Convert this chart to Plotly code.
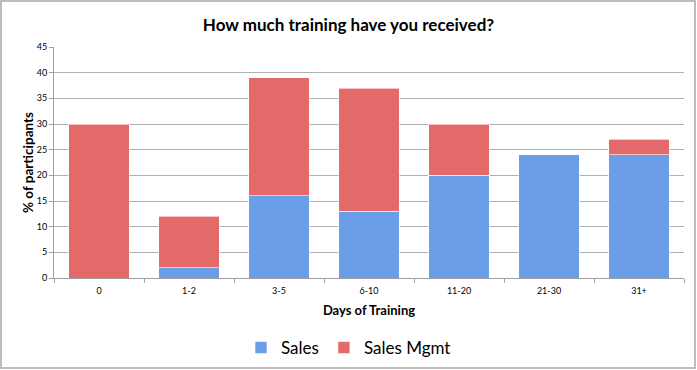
import plotly.graph_objects as go

categories = ["0", "1-2", "3-5", "6-10", "11-20", "21-30", "31+"]
sales = [0, 2, 16, 13, 20, 24, 24]
sales_mgmt = [30, 10, 23, 24, 10, 0, 3]
y_ticks = [0, 5, 10, 15, 20, 25, 30, 35, 40, 45]

FONT = "Lato, 'Open Sans', sans-serif"

fig = go.Figure()
fig.add_trace(go.Bar(
    x=categories, y=sales, name="Sales",
    marker=dict(color="#6a9ee6", line=dict(color="rgba(255,255,255,0.6)", width=1)),
))
fig.add_trace(go.Bar(
    x=categories, y=sales_mgmt, name="Sales Mgmt",
    marker=dict(color="#e46a6a", line=dict(color="rgba(255,255,255,0.6)", width=1)),
))

fig.update_layout(
    barmode="stack",
    bargap=0.333,
    width=697, height=370,
    margin=dict(l=54, r=13, t=47, b=92),
    paper_bgcolor="white",
    plot_bgcolor="white",
    font=dict(family=FONT, color="#000"),
    title=dict(
        text="<b>How much training have you received?</b>",
        x=0.5, xref="container", xanchor="center",
        y=1 - 25 / 370, yref="container", yanchor="middle",
        font=dict(size=17, family=FONT),
    ),
    xaxis=dict(
        title=dict(text="<b>Days of Training</b>", font=dict(size=13), standoff=11),
        tickfont=dict(size=9),
        ticklabelstandoff=4,
        showline=True, linecolor="#a0a0a0", linewidth=1,
        ticks="outside", ticklen=4, tickcolor="#a0a0a0",
        tickson="boundaries",
        showgrid=False,
    ),
    yaxis=dict(
        title=dict(text="<b>% of participants</b>", font=dict(size=13.5), standoff=0),
        range=[0, 45],
        tickvals=y_ticks,
        tickfont=dict(size=9),
        showline=True, linecolor="#a0a0a0", linewidth=1,
        ticks="outside", ticklen=4, tickcolor="#a0a0a0",
        showgrid=True, gridcolor="#b0b0b0", gridwidth=1,
        zeroline=False,
    ),
    legend=dict(
        orientation="h",
        x=0.5, xref="container", xanchor="center",
        y=22 / 370, yref="container", yanchor="middle",
        font=dict(size=17, family=FONT),
        itemwidth=30,
        traceorder="normal",
    ),
    shapes=[dict(
        type="rect", xref="paper", yref="paper",
        x0=-53 / 630, x1=1 + 11 / 630, y0=-90 / 231, y1=1 + 46 / 231,
        line=dict(color="#bdbdbd", width=2), fillcolor="rgba(0,0,0,0)",
        layer="below",
    )],
)

fig.write_html(
    "out.html",
    config={"displayModeBar": False},
    post_script="document.body.style.margin='0';document.body.style.overflow='hidden';",
)
